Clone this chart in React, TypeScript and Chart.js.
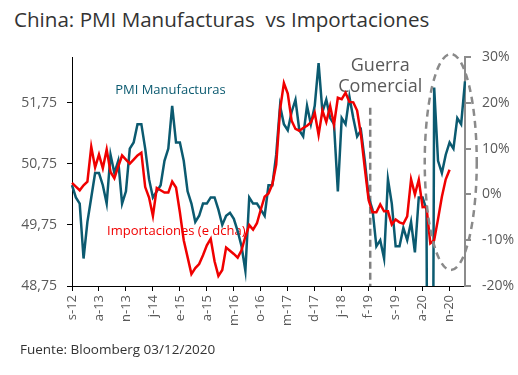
import React, { useEffect, useRef } from "react";
import { Chart, registerables } from "chart.js";

Chart.register(...registerables);

// Categories (monthly), labels shown every 7th
const months = [
  "s-12", "o-12", "n-12", "d-12",
  "e-13", "f-13", "m-13", "a-13", "m-13", "j-13", "j-13", "a-13", "s-13", "o-13", "n-13", "d-13",
  "e-14", "f-14", "m-14", "a-14", "m-14", "j-14", "j-14", "a-14", "s-14", "o-14", "n-14", "d-14",
  "e-15", "f-15", "m-15", "a-15", "m-15", "j-15", "j-15", "a-15", "s-15", "o-15", "n-15", "d-15",
  "e-16", "f-16", "m-16", "a-16", "m-16", "j-16", "j-16", "a-16", "s-16", "o-16", "n-16", "d-16",
  "e-17", "f-17", "m-17", "a-17", "m-17", "j-17", "j-17", "a-17", "s-17", "o-17", "n-17", "d-17",
  "e-18", "f-18", "m-18", "a-18", "m-18", "j-18", "j-18", "a-18", "s-18", "o-18", "n-18", "d-18",
  "e-19", "f-19", "m-19", "a-19", "m-19", "j-19", "j-19", "a-19", "s-19", "o-19", "n-19", "d-19",
  "e-20", "f-20", "m-20", "a-20", "m-20", "j-20", "j-20", "a-20", "s-20", "o-20", "n-20", "d-20",
  "e-21", "f-21", "m-21",
];
const labelEvery = 7;

// PMI Manufacturas (left axis)
const pmiManufacturas = [
  50.4, 50.2, 50.1, 49.2, 49.8, 50.2, 50.6, 50.6, 50.4, 50.1,
  50.9, 50.6, 50.8, 50.1, 50.3, 51.0, 51.1, 51.4, 51.4, 51.0,
  50.5, 50.2, 50.3, 50.4, 50.8, 51.0, 51.7, 51.1, 51.1, 50.8,
  50.3, 50.1, 49.8, 49.9, 50.1, 50.1, 50.2, 50.2, 50.0, 49.75,
  49.9, 49.95, 49.85, 49.65, 49.4, 49.0, 50.2, 50.1, 50.1, 50.0,
  49.9, 50.4, 50.4, 50.9, 51.7, 51.4, 51.3, 51.6, 51.8, 51.3,
  51.2, 51.7, 51.4, 51.7, 52.4, 51.6, 51.8, 51.5, 51.4, 50.3,
  51.5, 51.4, 51.85, 51.5, 51.2, 51.3, 50.8, 50.2, 50.0, 49.4,
  49.5, 49.2, 50.5, 50.1, 49.4, 49.4, 49.7, 49.5, 49.8, 49.3,
  50.2, 50.2, 50.0, 35.7, 52.0, 50.8, 50.6, 50.9, 51.1, 51.0,
  51.5, 51.4, 52.1,
];

// Importaciones % (right axis)
const importaciones = [
  2.5, 1.7, 0.9, 2.0, 2.8, 10.4, 5.9, 8.7, 5.7, 9.8,
  4.9, 3.5, 6.1, 8.5, 7.6, 6.7, 7.6, 8.5, 9.1, 1.6,
  -0.7, -4.7, 1.4, 0.9, 0.4, 0.4, 2.8, 1.5, -3.9, -10.0,
  -13.7, -17.4, -16.1, -15.2, -13.3, -11.1, -9.7, -14.6, -17.8, -16.5,
  -11.6, -12.3, -13.0, -13.8, -12.2, -9.2, -6.7, -7.7, -6.3, -3.3,
  -0.5, 0.2, 2.2, 6.5, 18.5, 24.3, 22.0, 16.1, 14.3, 13.9,
  14.5, 15.0, 15.7, 17.8, 13.0, 18.3, 15.8, 19.3, 15.2, 21.1,
  20.8, 22.2, 20.2, 20.1, 18.3, 13.0, 5.7, -1.3, -3.9, -3.9,
  -2.2, -3.7, -3.7, -6.6, -5.5, -6.1, -6.4, -4.8, 3.3, 0.0,
  3.2, -2.8, -2.7, -10.7, -10.0, -5.4, -0.5, 3.3, 5.4,
];

const leftTicks = [48.75, 49.75, 50.75, 51.75];
const rightTicks = [-20, -10, 0, 10, 20, 30];

const titleText = "China: PMI Manufacturas  vs Importaciones";
const sourceText = "Fuente: Bloomberg 03/12/2020";
const pmiLabel = "PMI Manufacturas";
const impLabel = "Importaciones (e dcha)";
const warLabel = ["Guerra", "Comercial"];

const GREEN = "#0b5a70";
const RED = "#f00000";
const GREY_TXT = "#595959";
const FONT = '"Open Sans", "DejaVu Sans", sans-serif';

const notesPlugin = {
  id: "notes",
  beforeDatasetsDraw(chart: any) {
    const { ctx, chartArea } = chart;
    const x = chart.scales.x;
    const y = chart.scales.y;
    ctx.save();
    ctx.textBaseline = "middle";
    ctx.textAlign = "left";
    ctx.font = `13px ${FONT}`;
    ctx.fillStyle = GREEN;
    ctx.fillText(pmiLabel, x.getPixelForValue(11.2), y.getPixelForValue(51.95));
    ctx.fillStyle = RED;
    ctx.fillText(impLabel, x.getPixelForValue(9.1), y.getPixelForValue(49.65));
    ctx.textAlign = "center";
    ctx.fillStyle = GREY_TXT;
    ctx.font = `18px ${FONT}`;
    ctx.fillText(warLabel[0], x.getPixelForValue(80), y.getPixelForValue(52.36));
    ctx.fillText(warLabel[1], x.getPixelForValue(80), y.getPixelForValue(52.01));
    const lx = x.getPixelForValue(77.4);
    ctx.setLineDash([7, 4]);
    ctx.lineWidth = 2.5;
    ctx.strokeStyle = "#808080";
    ctx.beginPath();
    ctx.moveTo(lx, y.getPixelForValue(51.67));
    ctx.lineTo(lx, chartArea.bottom);
    ctx.stroke();
    ctx.restore();
  },
  afterDraw(chart: any) {
    const { ctx } = chart;
    const x = chart.scales.x;
    const y = chart.scales.y;
    const cx = x.getPixelForValue(98.3);
    const rx = x.getPixelForValue(105.05) - cx;
    const top = y.getPixelForValue(52.55);
    const bottom = y.getPixelForValue(49.01);
    ctx.save();
    ctx.setLineDash([7, 5]);
    ctx.lineWidth = 2.5;
    ctx.strokeStyle = "#8a8a8a";
    ctx.beginPath();
    ctx.ellipse(cx, (top + bottom) / 2, rx, (bottom - top) / 2, 0, 0, Math.PI * 2);
    ctx.stroke();
    ctx.restore();
  },
};

export default function App() {
  const canvasRef = useRef<HTMLCanvasElement | null>(null);

  useEffect(() => {
    if (!canvasRef.current) return;
    const chart = new Chart(canvasRef.current, {
      type: "line",
      data: {
        labels: months,
        datasets: [
          {
            label: impLabel,
            data: importaciones,
            yAxisID: "y1",
            borderColor: RED,
            borderWidth: 2.5,
            pointRadius: 0,
            tension: 0,
            fill: false,
          },
          {
            label: pmiLabel,
            data: pmiManufacturas,
            yAxisID: "y",
            borderColor: GREEN,
            borderWidth: 2.5,
            pointRadius: 0,
            tension: 0,
            fill: false,
          },
        ],
      },
      options: {
        animation: false,
        responsive: true,
        maintainAspectRatio: false,
        layout: { padding: { top: 57, left: 0, right: 0, bottom: 0 } },
        plugins: {
          legend: { display: false },
          tooltip: { enabled: false },
          title: { display: false },
        },
        scales: {
          x: {
            type: "category",
            offset: false,
            afterFit: (s: any) => {
              s.height = 89;
            },
            border: { display: true, color: "#000", width: 1 },
            grid: {
              display: true,
              drawOnChartArea: false,
              drawTicks: true,
              tickLength: 5,
              color: "#000",
            },
            ticks: {
              autoSkip: false,
              maxRotation: 90,
              minRotation: 90,
              padding: 4,
              color: GREY_TXT,
              font: { family: FONT, size: 13 },
              callback: (_v: any, i: number) => (i % labelEvery === 0 ? months[i] : null),
            },
          },
          y: {
            position: "left",
            min: 48.75,
            max: 52.5,
            afterFit: (s: any) => {
              s.width = 72;
            },
            afterBuildTicks: (s: any) => {
              s.ticks = leftTicks.map((v) => ({ value: v }));
            },
            border: { display: true, color: "#000", width: 1 },
            grid: {
              display: true,
              drawOnChartArea: false,
              drawTicks: true,
              tickLength: 5,
              color: "#000",
            },
            ticks: {
              padding: 10,
              color: GREY_TXT,
              font: { family: FONT, size: 14 },
              callback: (v: any) => Number(v).toFixed(2).replace(".", ","),
            },
          },
          y1: {
            position: "right",
            min: -20,
            max: 30,
            afterFit: (s: any) => {
              s.width = 53;
            },
            afterBuildTicks: (s: any) => {
              s.ticks = rightTicks.map((v) => ({ value: v }));
            },
            border: { display: true, color: "#8c8c8c", width: 2 },
            grid: {
              display: true,
              drawOnChartArea: false,
              drawTicks: true,
              tickLength: 6,
              color: "#8c8c8c",
              lineWidth: 2,
            },
            ticks: {
              padding: 11,
              color: GREY_TXT,
              font: { family: FONT, size: 14 },
              callback: (v: any) => `${v}%`,
            },
          },
        },
      },
      plugins: [notesPlugin],
    } as any);
    return () => chart.destroy();
  }, []);

  return (
    <div
      style={{
        position: "fixed",
        left: 0,
        top: 0,
        width: 518,
        height: 375,
        background: "#fff",
        fontFamily: FONT,
      }}
    >
      <div
        style={{
          position: "absolute",
          left: 14,
          top: 5,
          fontSize: 20.6,
          color: "#333",
          whiteSpace: "pre",
          lineHeight: "normal",
        }}
      >
        {titleText}
      </div>
      <canvas ref={canvasRef} style={{ position: "absolute", left: 0, top: 0, width: 518, height: 375 }} />
      <div
        style={{
          position: "absolute",
          left: 20,
          top: 340,
          fontSize: 13.5,
          color: "#333",
          whiteSpace: "pre",
          lineHeight: "normal",
        }}
      >
        {sourceText}
      </div>
    </div>
  );
}
